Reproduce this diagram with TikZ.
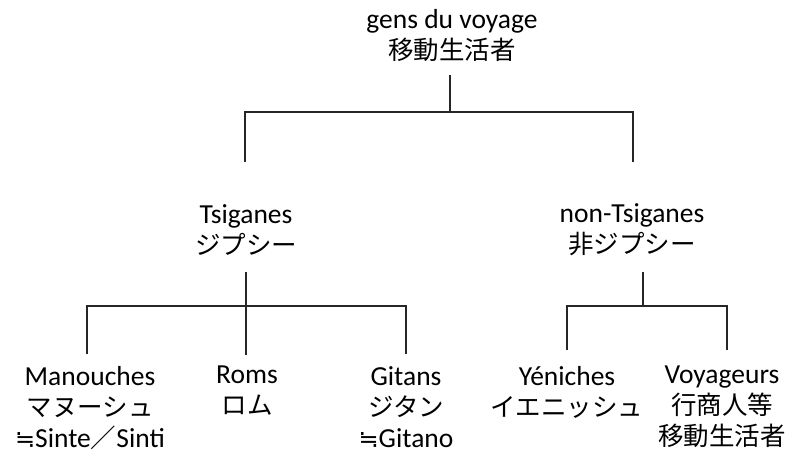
\documentclass[tikz,border=0pt]{standalone}
\usepackage{fontspec}
\setmainfont{Carlito}
\newfontfamily\jpfont{Noto Sans CJK JP}
\newfontfamily\symfont{DejaVu Sans}
\newcommand{\jp}[1]{{\fontsize{25.5}{31}\jpfont #1}}
\newcommand{\approxsym}{{\fontsize{24}{31}\symfont ≒}}
\tikzset{
  lbl/.style={align=center, inner sep=0pt, font=\fontsize{27.5}{31}\selectfont},
  conn/.style={line width=1.3pt, black!85}
}
\begin{document}
\begin{tikzpicture}[x=1pt,y=-1pt]
\useasboundingbox (0,0) rectangle (788,456);
% nodes
\node[lbl] (top) at (452,36) {gens du voyage\\\jp{移動生活者}};
\node[lbl] (ts) at (246,230) {Tsiganes\\\jp{ジプシー}};
\node[lbl] (nts) at (632,230) {non-Tsiganes\\\jp{非ジプシー}};
\node[lbl,anchor=north] (man) at (90,366) {Manouches\\\jp{マヌーシュ}\\\approxsym Sinte\jp{／}Sinti};
\node[lbl,anchor=north] (rom) at (247,366) {Roms\\\jp{ロム}};
\node[lbl,anchor=north] (git) at (406,366) {Gitans\\\jp{ジタン}\\\approxsym Gitano};
\node[lbl,anchor=north] (yen) at (567,366) {Yéniches\\\jp{イエニッシュ}};
\node[lbl,anchor=north] (voy) at (722,366) {Voyageurs\\\jp{行商人等}\\\jp{移動生活者}};
% junction and line-end coordinates
\coordinate (t0) at (450,75);
\coordinate (j0) at (450,112);
\coordinate (tsl) at (245,162);
\coordinate (ntsl) at (633,162);
\coordinate (t1) at (246,272);
\coordinate (j1) at (246,306);
\coordinate (t2) at (643,272);
\coordinate (j2) at (643,306);
\coordinate (manl) at (87,354);
\coordinate (roml) at (246,355);
\coordinate (gitl) at (406,354);
\coordinate (yenl) at (567,350);
\coordinate (voyl) at (727,350);
% top level
\draw[conn] (t0) -- (j0);
\draw[conn] (j0) -| (tsl);
\draw[conn] (j0) -| (ntsl);
% Tsiganes
\draw[conn] (t1) -- (j1);
\draw[conn] (j1) -| (manl);
\draw[conn] (j1) -| (gitl);
\draw[conn] (j1) -- (roml);
% non-Tsiganes
\draw[conn] (t2) -- (j2);
\draw[conn] (j2) -| (yenl);
\draw[conn] (j2) -| (voyl);
\end{tikzpicture}
\end{document}
